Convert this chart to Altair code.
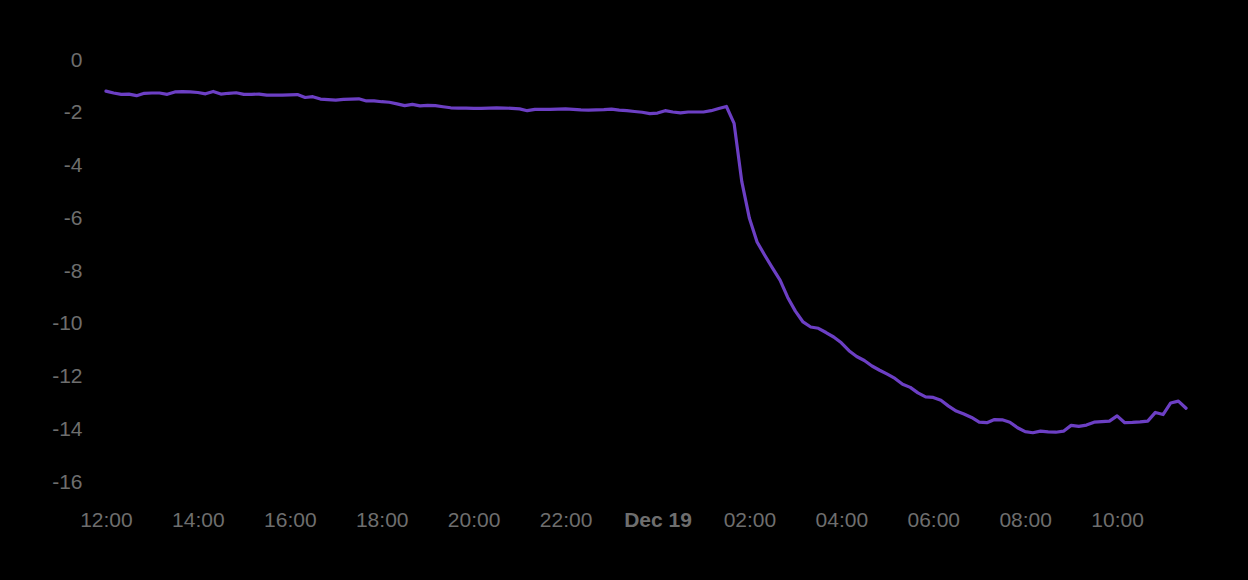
import altair as alt
import pandas as pd
from altair.utils import html as alt_html

# ---- data (10-minute readings starting 2023-12-18 12:00 UTC) ----
start_time = "2023-12-18T12:00:00Z"
step_minutes = 10
values = [
    -1.18, -1.25, -1.30, -1.29, -1.35, -1.26, -1.25, -1.25, -1.30, -1.21,
    -1.20, -1.21, -1.23, -1.28, -1.19, -1.29, -1.26, -1.24, -1.30, -1.30,
    -1.29, -1.33, -1.33, -1.33, -1.32, -1.31, -1.42, -1.39, -1.48, -1.50,
    -1.52, -1.49, -1.48, -1.47, -1.55, -1.55, -1.58, -1.60, -1.66, -1.73,
    -1.68, -1.74, -1.72, -1.73, -1.77, -1.81, -1.82, -1.82, -1.83, -1.83,
    -1.82, -1.81, -1.82, -1.83, -1.85, -1.92, -1.87, -1.87, -1.87, -1.86,
    -1.85, -1.87, -1.89, -1.90, -1.89, -1.88, -1.86, -1.90, -1.92, -1.95,
    -1.98, -2.03, -2.01, -1.92, -1.97, -2.00, -1.97, -1.97, -1.97, -1.92,
    -1.84, -1.76, -2.40, -4.60, -6.00, -6.90, -7.40, -7.88, -8.34, -9.00,
    -9.52, -9.93, -10.12, -10.17, -10.33, -10.50, -10.72, -11.02, -11.24, -11.39,
    -11.60, -11.76, -11.91, -12.07, -12.29, -12.41, -12.62, -12.77, -12.79, -12.90,
    -13.12, -13.31, -13.42, -13.55, -13.73, -13.75, -13.63, -13.64, -13.73, -13.94,
    -14.09, -14.13, -14.07, -14.10, -14.11, -14.07, -13.85, -13.89, -13.84, -13.73,
    -13.71, -13.69, -13.49, -13.75, -13.74, -13.72, -13.69, -13.36, -13.44, -13.00,
    -12.93, -13.20,
]
y_ticks = [0, -2, -4, -6, -8, -10, -12, -14, -16]
x_tick_times = [
    "2023-12-18T12:00:00Z", "2023-12-18T14:00:00Z", "2023-12-18T16:00:00Z",
    "2023-12-18T18:00:00Z", "2023-12-18T20:00:00Z", "2023-12-18T22:00:00Z",
    "2023-12-19T00:00:00Z", "2023-12-19T02:00:00Z", "2023-12-19T04:00:00Z",
    "2023-12-19T06:00:00Z", "2023-12-19T08:00:00Z", "2023-12-19T10:00:00Z",
]
x_domain = ["2023-12-18T11:47:00Z", "2023-12-19T11:43:00Z"]

# ---- build table ----
t0 = pd.Timestamp(start_time)
times = [t0 + pd.Timedelta(minutes=step_minutes * i) for i in range(len(values))]
df = pd.DataFrame({
    "time": [t.strftime("%Y-%m-%dT%H:%M:%SZ") for t in times],
    "value": values,
})


def ms(s):
    return int(pd.Timestamp(s).value // 10**6)


label_color = "#6e6e6e"
font = "Liberation Sans"

chart = alt.Chart(df).mark_line(
    color="#6c3fc4", strokeWidth=3.2, strokeJoin="round", strokeCap="round"
).encode(
    x=alt.X(
        "time:T",
        scale=alt.Scale(type="utc", domain=[ms(d) for d in x_domain]),
        axis=alt.Axis(
            title=None,
            values=[ms(v) for v in x_tick_times],
            labelExpr="utchours(datum.value) == 0 ? utcFormat(datum.value, '%b %d') : utcFormat(datum.value, '%H:%M')",
            labelFontWeight={"expr": "utchours(datum.value) == 0 ? 'bold' : 'normal'"},
            labelFlush=False,
            labelOverlap=False,
            labelPadding=9,
            grid=False,
            domain=False,
            ticks=False,
        ),
    ),
    y=alt.Y(
        "value:Q",
        scale=alt.Scale(domain=[-16.68, 0.76], nice=False, zero=False),
        axis=alt.Axis(
            title=None,
            values=y_ticks,
            labelExpr="'' + datum.value",
            labelPadding=14,
            grid=False,
            domain=False,
            ticks=False,
        ),
    ),
).properties(
    width=1100,
    height=460,
    autosize=alt.AutoSizeParams(type="none"),
    padding={"left": 88, "top": 32, "right": 44, "bottom": 64},
).configure(
    background="black",
).configure_view(
    stroke=None,
).configure_axis(
    labelColor=label_color,
    labelFont=font,
    labelFontSize=21,
)


class BlackPageTemplate:
    """Standard Altair HTML template with a black page background."""

    def render(self, **kwargs):
        out = alt_html.TEMPLATES["standard"].render(**kwargs)
        return out.replace("<style>", "<style>\n    body { background: black; }", 1)


chart.save(
    "out.html",
    embed_options={"renderer": "svg", "actions": False},
    template=BlackPageTemplate(),
)
